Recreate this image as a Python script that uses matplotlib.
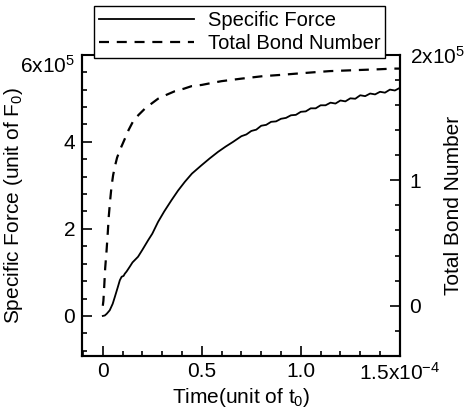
import matplotlib
matplotlib.use("Agg")
import matplotlib.pyplot as plt
from matplotlib.ticker import FixedLocator, MultipleLocator

plt.rcParams["font.family"] = ["Liberation Sans", "DejaVu Sans"]
plt.rcParams["mathtext.fontset"] = "custom"
plt.rcParams["mathtext.rm"] = "Liberation Sans"
plt.rcParams["mathtext.it"] = "Liberation Sans"
plt.rcParams["mathtext.default"] = "regular"

# time in units of 1e-4 t0, force in 1e5 F0, bond number in 1e5
force_t = [0, 0.01, 0.02, 0.035, 0.05, 0.061, 0.075, 0.086, 0.095, 0.105, 0.111,
           0.12, 0.136, 0.15, 0.178, 0.2, 0.229, 0.25, 0.279, 0.31, 0.347, 0.38,
           0.414, 0.45, 0.498, 0.54, 0.582, 0.62, 0.658,
           0.700, 0.725, 0.750, 0.775, 0.800, 0.825, 0.850, 0.875, 0.900, 0.925,
           0.950, 0.975, 1.000, 1.025, 1.050, 1.075, 1.100, 1.125, 1.150, 1.175,
           1.200, 1.225, 1.250, 1.275, 1.300, 1.325, 1.350, 1.375, 1.400, 1.425,
           1.450, 1.475, 1.500]
force = [0, 0.01, 0.05, 0.13, 0.28, 0.44, 0.65, 0.82, 0.90, 0.92, 0.97,
         1.02, 1.13, 1.23, 1.36, 1.52, 1.74, 1.89, 2.16, 2.40, 2.66, 2.88,
         3.08, 3.27, 3.46, 3.62, 3.77, 3.89, 4.00,
         4.13, 4.17, 4.25, 4.28, 4.37, 4.39, 4.46, 4.47, 4.53, 4.55,
         4.61, 4.62, 4.69, 4.70, 4.77, 4.77, 4.84, 4.84, 4.90, 4.88,
         4.95, 4.93, 5.00, 4.99, 5.07, 5.05, 5.11, 5.09, 5.15, 5.13,
         5.20, 5.18, 5.24]

bond_t = [0, 0.003, 0.007, 0.012, 0.019, 0.025, 0.030, 0.037, 0.044, 0.052,
          0.061, 0.072, 0.086, 0.1, 0.111, 0.13, 0.153, 0.18, 0.212, 0.245,
          0.279, 0.32, 0.364, 0.41, 0.448, 0.5, 0.532, 0.6, 0.7, 0.81, 0.9,
          0.978, 1.06, 1.146, 1.23, 1.315, 1.4, 1.466, 1.5]
bond = [0, 0.04, 0.15, 0.30, 0.44, 0.58, 0.71, 0.84, 0.95, 1.04,
        1.11, 1.18, 1.24, 1.29, 1.33, 1.40, 1.47, 1.52, 1.57, 1.61,
        1.65, 1.68, 1.71, 1.73, 1.75, 1.76, 1.77, 1.79, 1.81, 1.83, 1.84,
        1.85, 1.86, 1.87, 1.875, 1.88, 1.885, 1.89, 1.89]

x_ticks = [0, 0.5, 1.0, 1.5]
x_labels = ["0", "0.5", "1.0", "1.5x10$^{-4}$"]
left_ticks = [0, 2, 4, 6]
left_labels = ["0", "2", "4", "6x10$^5$"]
right_ticks = [0, 1, 2]
right_labels = ["0", "1", "2x10$^5$"]

fs = 15

fig = plt.figure(figsize=(4.66, 4.12), dpi=100)
ax = fig.add_axes([0.176, 0.136, 0.682, 0.731])
ax2 = ax.twinx()

l1, = ax.plot(force_t, force, color="black", lw=1.3)
l2, = ax2.plot(bond_t, bond, color="black", lw=1.6, dashes=(4.5, 3.5))

ax.set_xlim(-0.105, 1.5)
ax.set_ylim(-0.92, 6)
ax2.set_ylim(-0.4, 2)

ax.xaxis.set_major_locator(FixedLocator(x_ticks))
ax.set_xticklabels(x_labels)
ax.xaxis.set_minor_locator(MultipleLocator(0.1))
ax.yaxis.set_major_locator(FixedLocator(left_ticks))
ax.set_yticklabels(left_labels)
ax.yaxis.set_minor_locator(MultipleLocator(0.4))
ax2.yaxis.set_major_locator(FixedLocator(right_ticks))
ax2.set_yticklabels(right_labels)
ax2.yaxis.set_minor_locator(MultipleLocator(0.2))

ax.tick_params(which="both", direction="in", width=1.2, labelsize=fs,
               top=False, right=False)
ax.tick_params(which="major", length=7)
ax.tick_params(which="minor", length=3.5)
ax.tick_params(axis="y", pad=5)
ax.tick_params(axis="x", pad=4)
ax2.tick_params(which="both", direction="in", width=1.2, labelsize=fs, pad=7)
ax2.tick_params(which="major", length=7)
ax2.tick_params(which="minor", length=3.5)
ax.get_yticklabels()[-1].set_verticalalignment("top")

for a in (ax, ax2):
    for s in a.spines.values():
        s.set_linewidth(1.5)
ax2.spines["top"].set_visible(False)

ax.set_xlabel("Time(unit of t$_0$)", fontsize=fs, labelpad=2)
ax.set_ylabel("Specific Force (unit of F$_0$)", fontsize=fs)
ax.yaxis.set_label_coords(-0.18, 0.5)
ax2.set_ylabel("Total Bond Number", fontsize=fs)
ax2.yaxis.set_label_coords(1.138, 0.5)

leg = fig.legend([l1, l2], ["Specific Force", "Total Bond Number"],
                 loc="upper left", bbox_to_anchor=(0.2017, 0.9854),
                 bbox_transform=fig.transFigure, fontsize=14.5,
                 handlelength=4.7, handletextpad=0.7, borderpad=0.25,
                 borderaxespad=0, labelspacing=0.2, fancybox=False,
                 framealpha=1, edgecolor="black")
leg.get_frame().set_linewidth(1.0)

fig.savefig("out.png", dpi=100)
